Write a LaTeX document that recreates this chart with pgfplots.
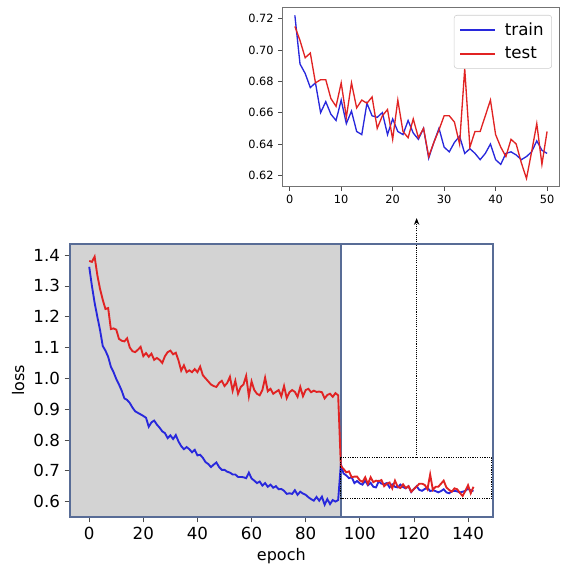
\documentclass[border=0pt]{standalone}
\usepackage{fontspec}
\setmainfont{DejaVu Sans}
\usepackage{pgfplots}
\usepackage{pgfplotstable}
\pgfplotsset{compat=1.18}
\usetikzlibrary{arrows.meta}
\definecolor{spine}{RGB}{88,108,150}
\definecolor{ltrain}{RGB}{40,40,220}
\definecolor{ltest}{RGB}{225,35,35}
\definecolor{bggray}{RGB}{211,211,211}

\pgfplotstableread{
x train test
0 1.362 1.381
1 1.300 1.378
2 1.245 1.395
3 1.200 1.335
4 1.157 1.290
5 1.105 1.255
6 1.090 1.225
7 1.070 1.228
8 1.038 1.160
9 1.020 1.162
10 0.998 1.158
11 0.980 1.128
12 0.960 1.122
13 0.935 1.120
14 0.930 1.130
15 0.920 1.100
16 0.905 1.088
17 0.893 1.085
18 0.888 1.093
19 0.883 1.102
20 0.878 1.072
21 0.872 1.082
22 0.843 1.070
23 0.857 1.080
24 0.863 1.060
25 0.850 1.066
26 0.840 1.060
27 0.828 1.050
28 0.822 1.072
29 0.806 1.085
30 0.815 1.090
31 0.803 1.078
32 0.816 1.083
33 0.795 1.058
34 0.780 1.025
35 0.770 1.042
36 0.777 1.020
37 0.770 1.026
38 0.760 1.020
39 0.768 1.030
40 0.750 1.020
41 0.752 1.038
42 0.742 1.010
43 0.728 1.000
44 0.722 0.990
45 0.712 0.980
46 0.720 0.975
47 0.727 0.972
48 0.712 0.985
49 0.703 0.992
50 0.703 0.975
51 0.697 0.985
52 0.694 1.005
53 0.688 0.960
54 0.688 0.992
55 0.680 0.950
56 0.680 0.972
57 0.679 0.980
58 0.676 1.008
59 0.694 0.942
60 0.675 0.990
61 0.668 0.962
62 0.660 0.950
63 0.665 0.945
64 0.652 0.962
65 0.660 1.002
66 0.648 0.958
67 0.655 0.966
68 0.645 0.950
69 0.650 0.956
70 0.640 0.962
71 0.641 0.942
72 0.635 0.975
73 0.625 0.936
74 0.627 0.955
75 0.625 0.962
76 0.637 0.956
77 0.622 0.940
78 0.632 0.972
79 0.626 0.942
80 0.622 0.962
81 0.614 0.966
82 0.608 0.955
83 0.603 0.960
84 0.615 0.956
85 0.603 0.957
86 0.616 0.955
87 0.590 0.935
88 0.608 0.946
89 0.592 0.950
90 0.605 0.940
91 0.600 0.952
92 0.605 0.945
93 0.722 0.715
94 0.691 0.706
95 0.685 0.695
96 0.676 0.698
97 0.679 0.679
98 0.660 0.681
99 0.667 0.681
100 0.659 0.669
101 0.655 0.664
102 0.668 0.679
103 0.653 0.657
104 0.661 0.679
105 0.648 0.663
106 0.646 0.668
107 0.666 0.666
108 0.658 0.670
109 0.657 0.650
110 0.660 0.658
111 0.646 0.662
112 0.656 0.643
113 0.648 0.668
114 0.646 0.648
115 0.655 0.644
116 0.647 0.656
117 0.643 0.644
118 0.650 0.650
119 0.631 0.632
120 0.641 0.641
121 0.650 0.649
122 0.638 0.658
123 0.635 0.658
124 0.641 0.654
125 0.645 0.640
126 0.634 0.688
127 0.637 0.638
128 0.634 0.648
129 0.630 0.648
130 0.634 0.658
131 0.640 0.668
132 0.630 0.646
133 0.627 0.638
134 0.634 0.632
135 0.635 0.643
136 0.633 0.640
137 0.630 0.628
138 0.632 0.618
139 0.635 0.635
140 0.642 0.653
141 0.636 0.627
142 0.634 0.648
}\losstable

\pgfplotsset{/pgf/number format/assume math mode=true}

\begin{document}
\begin{tikzpicture}
\useasboundingbox (0,0) rectangle (420.75pt,423pt);
% main axis
\begin{axis}[
  at={(52.5pt,35.25pt)}, anchor=south west,
  scale only axis, width=317pt, height=204.75pt,
  xmin=-7.1, xmax=149.1, ymin=0.55, ymax=1.436,
  clip=false, axis on top,
  axis line style={spine, line width=1.3pt},
  xtick={0,20,...,140},
  ytick={0.6,0.7,0.8,0.9,1.0,1.1,1.2,1.3,1.4},
  xtick pos=left, ytick pos=left,
  tick align=outside, major tick length=4pt,
  tick style={black!70, line width=0.6pt},
  ticklabel style={font=\fontsize{12.5}{14}\selectfont},
  yticklabel style={/pgf/number format/.cd, fixed, fixed zerofill, precision=1},
  xlabel={epoch}, ylabel={loss},
  label style={font=\fontsize{12}{14}\selectfont},
]
\fill[bggray] (axis cs:-7.1,0.55) rectangle (axis cs:93,1.436);
\draw[spine, line width=1.3pt] (axis cs:93,0.55) -- (axis cs:93,1.436);
\addplot[ltrain, line width=1.4pt, no marks] table[x=x, y=train] {\losstable};
\addplot[ltest, line width=1.4pt, no marks] table[x=x, y=test] {\losstable};
\draw[black, line width=0.9pt, dash pattern=on 0.9pt off 0.9pt] (axis cs:93,0.609) rectangle (axis cs:148.8,0.7427);
\draw[black, line width=0.6pt, dash pattern=on 0.8pt off 0.8pt, -{Stealth[length=5pt,width=4pt]}] (axis cs:121,0.7427) -- (axis cs:121,1.52);
\end{axis}
% inset axis
\begin{axis}[
  at={(211.7pt,283pt)}, anchor=south west,
  scale only axis, width=208.05pt, height=134.55pt,
  xmin=-1.45, xmax=52.45, ymin=0.6128, ymax=0.7272,
  axis line style={black!55, line width=0.6pt},
  xtick={0,10,...,50},
  ytick={0.62,0.64,0.66,0.68,0.70,0.72},
  xtick pos=left, ytick pos=left,
  tick align=outside, major tick length=3pt,
  tick style={black!70, line width=0.5pt},
  ticklabel style={font=\fontsize{8.5}{10}\selectfont},
  yticklabel style={/pgf/number format/.cd, fixed, fixed zerofill, precision=2},
  legend style={at={(1,1)}, xshift=-5.8pt, yshift=-5.8pt, anchor=north east,
    draw=black!20, rounded corners=2pt, fill=white,
    font=\fontsize{12.5}{14}\selectfont, row sep=3.5pt, inner xsep=4pt, inner ysep=3.5pt},
  legend cell align=left,
  legend image code/.code={\draw[#1] (0pt,0pt) -- (26pt,0pt); \path (31pt,0pt);},
]
\addplot[ltrain, line width=1pt, no marks, restrict x to domain=0.5:50.5] table[x expr=\thisrow{x}-92, y=train] {\losstable};
\addplot[ltest, line width=1pt, no marks, restrict x to domain=0.5:50.5] table[x expr=\thisrow{x}-92, y=test] {\losstable};
\legend{train, test}
\end{axis}
\end{tikzpicture}
\end{document}
